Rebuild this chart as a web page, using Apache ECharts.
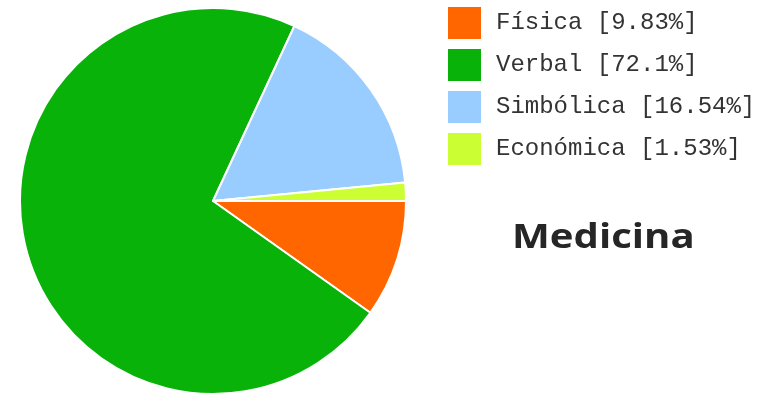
<!DOCTYPE html>
<html>
<head>
<meta charset="utf-8">
<script src="https://cdn.jsdelivr.net/npm/echarts@6/dist/echarts.min.js"></script>
<style>
  html, body { margin: 0; padding: 0; background: #ffffff; }
  #chart { width: 766px; height: 395px; }
</style>
</head>
<body>
<div id="chart"></div>
<script>
// Tipos de violencia — porcentajes, carrera de Medicina
const categories = ['Física', 'Verbal', 'Simbólica', 'Económica'];
const percentages = [9.83, 72.1, 16.54, 1.53];
const colors = ['#ff6600', '#08b208', '#99ccff', '#ccff33'];
const title = 'Medicina';

const pieData = categories.map((name, i) => ({
  name: name,
  value: percentages[i],
  itemStyle: { color: colors[i] }
}));

const chart = echarts.init(document.getElementById('chart'), null, { renderer: 'canvas' });

chart.setOption({
  backgroundColor: '#ffffff',
  animation: false,
  legend: {
    orient: 'vertical',
    left: 448,
    top: 7,
    padding: 0,
    itemWidth: 33,
    itemHeight: 32,
    itemGap: 10,
    icon: 'rect',
    selectedMode: false,
    data: categories,
    itemStyle: { borderWidth: 0 },
    formatter: function (name) {
      const i = categories.indexOf(name);
      return name + ' [' + percentages[i] + '%]';
    },
    textStyle: {
      fontFamily: 'Liberation Mono',
      fontSize: 24,
      color: '#333333',
      padding: [0, 0, 0, 10]
    }
  },
  graphic: [{
    type: 'text',
    left: 512,
    top: 221,
    scaleX: 1.18,
    style: {
      text: title,
      fontFamily: 'Open Sans',
      fontWeight: 'bold',
      fontSize: 34,
      fill: '#262626'
    }
  }],
  series: [{
    type: 'pie',
    center: [213, 201],
    radius: 193,
    startAngle: 0,
    clockwise: true,
    label: { show: false },
    labelLine: { show: false },
    emphasis: { disabled: true },
    itemStyle: { borderColor: '#ffffff', borderWidth: 2 },
    data: pieData
  }]
});
</script>
</body>
</html>
